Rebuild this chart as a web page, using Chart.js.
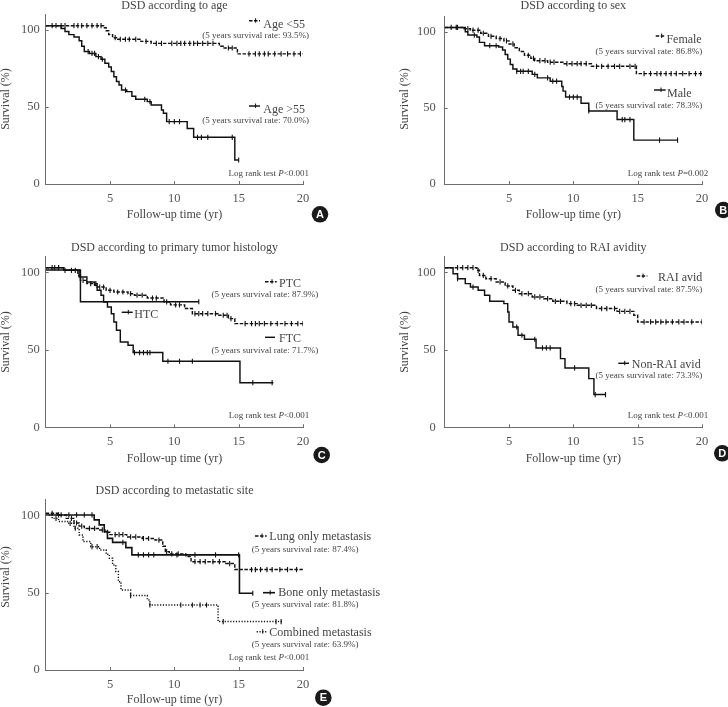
<!DOCTYPE html>
<html>
<head>
<meta charset="utf-8">
<script src="https://cdn.jsdelivr.net/npm/chart.js@4.4.1/dist/chart.umd.min.js"></script>
<style>
  body { margin: 0; background: #fff; width: 728px; height: 707px; position: relative; overflow: hidden; }
  canvas { position: absolute; }
</style>
</head>
<body>
<canvas id="chart-a" width="364" height="235" style="left:0;top:0"></canvas>
<canvas id="chart-b" width="364" height="235" style="left:364px;top:0"></canvas>
<canvas id="chart-c" width="364" height="235" style="left:0;top:235px"></canvas>
<canvas id="chart-d" width="364" height="235" style="left:364px;top:235px"></canvas>
<canvas id="chart-e" width="450" height="237" style="left:0;top:470px"></canvas>
<script>
// ticks shared by all panels
const xTicks = [5, 10, 15, 20];
const yTicks = [0, 50, 100];

// KM curves: [time (yr), survival (%)] at each drop
const ageUnder55 = [[0,102.8],[4.5,101.5],[4.7,99.5],[4.9,97],[5.2,95],[5.6,94],[7.4,92.6],[8.2,91.3],[13.5,89.5],[13.8,88.3],[14.9,84.5],[20,84.5]];
const ageOver55 = [[0,102.8],[1.2,101],[1.5,99],[1.8,97],[2.2,95.5],[2.6,93],[2.8,89.5],[3.0,86],[3.4,84.8],[3.9,82.7],[4.3,81],[4.6,78.4],[4.9,76],[5.1,73],[5.3,69.7],[5.5,66.5],[5.7,64.3],[5.9,61],[6.3,60],[6.7,57],[7.0,55],[7.9,53.5],[8.2,51.3],[9.0,48],[9.15,45.9],[9.4,40.5],[11.0,36.1],[11.5,30.3],[14.7,15.6],[15.0,15.6]];
const female = [[0,102.8],[1.5,102],[2.0,101],[2.8,99],[3.4,97],[4.0,95.5],[4.6,94],[5.0,92],[5.4,89.5],[5.8,87],[6.2,84.5],[6.7,82.5],[7.0,81],[8.0,80],[9.2,79],[11.4,77.3],[14.9,72.5],[20,72.5]];
const male = [[0,102.8],[1.6,100],[1.8,97.8],[2.5,96.5],[2.7,93],[3.1,90.8],[4.2,90],[4.5,88],[4.7,85],[4.9,82],[5.1,78.5],[5.3,75.5],[5.6,74],[6.8,72],[7.2,69.7],[8.2,67.5],[9.1,64],[9.2,61],[9.4,57.1],[10.6,53],[11.2,48],[13.4,42.3],[14.7,28.8],[18.1,28.8]];
const ptc = [[0,103],[1.4,101.3],[2.5,98],[2.7,94.8],[3.2,92.7],[4.0,90.5],[4.7,88.4],[5.3,87.3],[6.4,86.2],[6.9,85.2],[7.9,83.4],[9.2,80.9],[9.7,79],[10.8,76.6],[11.4,73.3],[13.4,72.3],[14.2,70.1],[14.7,66.9],[20,66.9]];
const ftc = [[0,103],[1.4,101.3],[2.6,97],[3.2,93.8],[3.8,91.6],[4.0,88.4],[4.3,85.2],[4.5,80.9],[4.8,77.6],[5.1,73.3],[5.3,68],[5.5,62.6],[5.8,55],[6.4,52.9],[6.8,48.2],[9.1,42.6],[15.1,28.8],[17.7,28.8]];
const htc = [[0,101.5],[2.7,81],[11.9,81]];
const raiAvid = [[0,103],[2.5,101.3],[2.7,98],[3.2,95.9],[4.0,93.8],[4.7,91.2],[5.3,88.4],[5.8,86.2],[6.8,84.1],[7.7,83],[8.4,81.3],[9.5,79.8],[10.3,78.7],[11.8,76.6],[13.4,74.8],[14.7,72.3],[15.0,68],[20,68]];
const nonRai = [[0,103],[0.65,99.1],[1.0,95.9],[1.6,92.7],[2.0,90.5],[2.6,88.4],[3.1,85.2],[3.5,81.3],[4.6,79.8],[4.9,74.4],[5.0,68],[5.3,64.7],[5.7,59.4],[6.2,56.8],[7.1,51.2],[9.0,44.3],[9.35,38.3],[11.2,31.4],[11.6,21.1],[12.5,21.1]];
const lungOnly = [[0,101.3],[0.9,100.2],[1.6,98],[2.2,95],[2.6,93],[3.0,91.5],[4.2,90.5],[4.6,89],[5.0,87.5],[6.3,86],[7.5,85],[8.5,84],[9.1,80],[9.3,76.5],[9.6,75],[10.9,73.3],[11.3,70],[14.0,68.8],[14.7,64.9],[20,64.9]];
const boneOnly = [[0,100.2],[3.77,97],[4.16,93.8],[4.55,89.4],[4.8,85.1],[5.2,82.5],[6.23,79.1],[6.7,74.4],[15.06,49.6],[16.1,49.6]];
const combined = [[0,100.2],[0.5,98],[1.0,96],[1.7,94.8],[2.2,91.6],[2.6,87.3],[2.9,83],[3.5,79.7],[4.2,77.6],[4.7,74.8],[4.95,72.2],[5.2,67.9],[5.45,63.6],[5.65,57.1],[5.85,51.7],[6.6,48.1],[7.9,45.3],[8.1,42],[13.4,31.3],[18.4,31.3]];

// censored times (yr)
const censAgeUnder55 = [0.5,0.8,1.2,1.5,2.2,2.5,2.8,3.2,3.6,4.0,4.3,5.4,5.8,6.2,6.5,7.0,7.8,8.6,9.0,9.8,10.2,10.5,10.8,11.2,11.5,11.8,12.2,12.6,13.0,14.2,14.5,15.8,16.3,16.6,17.0,17.3,17.8,18.3,18.8,19.3,19.8];
const censAgeOver55 = [3.3,3.6,3.8,4.1,4.4,6.2,7.7,8.1,9.6,10.0,10.4,11.8,12.1,12.6,14.5,15.0];
const censFemale = [0.5,0.9,1.8,2.2,2.6,3.0,3.6,4.3,4.8,5.3,6.5,6.9,7.4,7.8,8.2,8.5,9.5,9.9,10.3,10.6,11.0,11.8,12.2,12.7,13.2,13.6,14.4,14.8,15.5,16.0,16.5,16.8,17.2,17.6,18.0,18.5,19.0,19.5,19.9];
const censMale = [1.0,2.3,3.5,4.0,5.6,5.9,6.1,6.5,7.0,8.0,8.4,8.7,9.7,10.0,10.3,11.2,13.8,14.0,14.4,16.7,18.1];
const censPtc = [0.7,1.0,2.0,2.3,2.9,3.5,3.9,4.2,4.5,5.0,5.6,6.0,6.6,7.1,7.5,8.3,8.6,9.4,10.1,10.4,11.6,11.9,12.2,12.6,13.2,13.8,14.1,14.4,15.5,16.0,16.3,16.6,17.0,17.5,18.0,18.6,19.1,19.6,20];
const censFtc = [0.5,1.0,1.5,6.9,7.3,7.6,7.9,8.1,9.5,10.4,11.4,16.1,17.6];
const censHtc = [11.9];
const censRaiAvid = [1.0,1.4,1.8,2.2,2.6,3.0,3.6,4.3,4.9,5.5,6.0,6.5,7.0,7.4,8.0,8.6,9.0,9.8,10.1,10.6,11.0,11.4,12.2,12.6,13.2,13.6,14.0,14.4,15.5,16.0,16.4,16.8,17.2,17.7,18.2,18.6,19.2,20];
const censNonRai = [1.0,2.2,5.6,6.0,7.0,7.6,7.9,8.2,10.1,11.7,12.5];
const censLung = [0.5,1.2,2.0,2.4,2.8,3.4,3.8,4.4,4.8,5.4,5.7,6.0,6.6,7.0,7.6,8.0,8.8,9.4,9.8,10.3,11.6,12.0,12.4,13.0,13.5,14.3,16.0,16.3,16.7,17.2,17.6,18.2,18.8,19.5];
const censBone = [1.0,1.8,2.4,3.0,3.6,6.0,7.2,7.6,8.0,8.4,10.2,11.6,13.2,15.0,16.1];
const censCombined = [0.8,1.9,2.3,3.6,4.0,6.6,8.1,10.5,11.4,12.0,12.5,13.8,17.9,18.3];

const serif = "'Liberation Serif', 'Times New Roman', serif";
const ink = '#111';
const axisColor = '#6e6e6e';
const textColor = '#444';
const DASH = [3.5, 1.5];
const DOT = [1.2, 1.6];

const levelAt = (curve, t) => {
  let s = curve[0][1];
  for (const [x, y] of curve) { if (x <= t) s = y; else break; }
  return s;
};

const kmLine = (curve, dash = [], width = 1.45) => ({
  type: 'line',
  data: curve.map(([x, y]) => ({ x, y })),
  stepped: 'before',
  borderColor: ink, borderWidth: width, borderDash: dash,
  pointRadius: 0, fill: false
});

const kmCens = (curve, times) => ({
  type: 'scatter',
  data: times.map(t => ({ x: t, y: levelAt(curve, t) })),
  pointStyle: 'line', pointRotation: 90, pointRadius: 2.6,
  pointBorderColor: ink, pointBorderWidth: 1.1, showLine: false
});

// draws inward tick marks, annotation texts, legend samples and panel badge
const panelDeco = {
  id: 'panelDeco',
  afterDraw(chart, args, o) {
    const ctx = chart.ctx;
    const { x, y } = chart.scales;
    const area = chart.chartArea;
    ctx.save();
    ctx.strokeStyle = axisColor; ctx.lineWidth = 1;
    xTicks.forEach(v => {
      const px = Math.round(x.getPixelForValue(v)) + 0.5;
      ctx.beginPath(); ctx.moveTo(px, area.bottom); ctx.lineTo(px, area.bottom - 3); ctx.stroke();
    });
    yTicks.forEach(v => {
      const py = Math.round(y.getPixelForValue(v)) + 0.5;
      ctx.beginPath(); ctx.moveTo(area.left, py); ctx.lineTo(area.left + 3, py); ctx.stroke();
    });

    (o.marks || []).forEach(m => {
      ctx.strokeStyle = ink; ctx.lineWidth = m.w || 1.45;
      ctx.setLineDash(m.dash || []);
      ctx.beginPath(); ctx.moveTo(m.x1, m.y); ctx.lineTo(m.x2, m.y); ctx.stroke();
      ctx.setLineDash([]);
      if (m.tick) {
        ctx.lineWidth = 1;
        const tx = m.x1 + (m.x2 - m.x1) * 0.6;
        ctx.beginPath(); ctx.moveTo(tx, m.y - 2.5); ctx.lineTo(tx, m.y + 2); ctx.stroke();
      }
    });

    ctx.fillStyle = textColor;
    ctx.textBaseline = 'alphabetic';
    (o.texts || []).forEach(t => {
      const segs = typeof t.s === 'string' ? [[t.s, false]] : t.s;
      const fontOf = it => `${it ? 'italic ' : ''}${t.size || 12}px ${serif}`;
      const widths = segs.map(([s, it]) => { ctx.font = fontOf(it); return ctx.measureText(s).width; });
      const total = widths.reduce((a, b) => a + b, 0);
      ctx.save();
      ctx.translate(t.x, t.y);
      if (t.rot) ctx.rotate(t.rot * Math.PI / 180);
      let cx = t.align === 'right' ? -total : t.align === 'center' ? -total / 2 : 0;
      ctx.textAlign = 'left';
      segs.forEach(([s, it], i) => { ctx.font = fontOf(it); ctx.fillText(s, cx, 0); cx += widths[i]; });
      ctx.restore();
    });

    if (o.badge) {
      const b = o.badge;
      ctx.fillStyle = '#1a1a1a';
      ctx.beginPath(); ctx.arc(b.x, b.y, 8.3, 0, Math.PI * 2); ctx.fill();
      ctx.fillStyle = '#fff';
      ctx.font = `bold 11px 'Liberation Sans', Arial, sans-serif`;
      ctx.textAlign = 'center'; ctx.textBaseline = 'middle';
      ctx.fillText(b.letter, b.x, b.y + 0.5);
    }
    ctx.restore();
  }
};

function makePanel(id, datasets, lay, deco) {
  const tickFont = { family: serif, size: 12.5 };
  return new Chart(document.getElementById(id), {
    data: { datasets },
    options: {
      responsive: false, animation: false, devicePixelRatio: 1,
      layout: { padding: { top: lay.top, right: lay.right, bottom: 0, left: 0 } },
      plugins: { legend: { display: false }, tooltip: { enabled: false }, panelDeco: deco },
      scales: {
        x: {
          type: 'linear', min: 0, max: 20,
          afterBuildTicks: s => { s.ticks = xTicks.map(v => ({ value: v })); },
          afterFit: s => { s.height = lay.xh; },
          grid: { display: false, drawTicks: false },
          border: { display: true, color: axisColor, width: 1 },
          ticks: { padding: lay.xp, color: '#555', font: tickFont, maxRotation: 0, autoSkip: false }
        },
        y: {
          min: 0, max: 110,
          afterBuildTicks: s => { s.ticks = yTicks.map(v => ({ value: v })); },
          afterFit: s => { s.width = lay.yw; },
          grid: { display: false, drawTicks: false },
          border: { display: true, color: axisColor, width: 1 },
          ticks: { padding: lay.yp, color: '#555', font: tickFont }
        }
      }
    },
    plugins: [panelDeco]
  });
}

const logRank = p => [['Log rank test ', false], ['P', true], [p, false]];

// A: age
makePanel('chart-a', [
  kmLine(ageUnder55, DASH), kmCens(ageUnder55, censAgeUnder55),
  kmLine(ageOver55), kmCens(ageOver55, censAgeOver55)
], { top: 14.6, right: 61, xh: 51, yw: 45.7, xp: 7, yp: 6 }, {
  texts: [
    { s: 'DSD according to age', x: 174.5, y: 8.5, align: 'center' },
    { s: 'Follow-up time (yr)', x: 174.5, y: 217.5, align: 'center' },
    { s: 'Survival (%)', x: 9, y: 99, align: 'center', rot: -90 },
    { s: 'Age <55', x: 305, y: 28.3, align: 'right' },
    { s: '(5 years survival rate: 93.5%)', x: 309, y: 37.7, align: 'right', size: 9 },
    { s: 'Age >55', x: 305, y: 113.3, align: 'right' },
    { s: '(5 years survival rate: 70.0%)', x: 309, y: 123.3, align: 'right', size: 9 },
    { s: logRank('<0.001'), x: 309, y: 175.7, align: 'right', size: 9 }
  ],
  marks: [
    { x1: 249, x2: 260, y: 20.7, dash: DASH, tick: true },
    { x1: 249, x2: 260, y: 106, tick: true }
  ],
  badge: { x: 320, y: 214.3, letter: 'A' }
});

// B: sex
makePanel('chart-b', [
  kmLine(female, DASH), kmCens(female, censFemale),
  kmLine(male), kmCens(male, censMale)
], { top: 14.6, right: 26, xh: 51, yw: 80.7, xp: 7, yp: 9 }, {
  texts: [
    { s: 'DSD according to sex', x: 209.3, y: 8.5, align: 'center' },
    { s: 'Follow-up time (yr)', x: 209.3, y: 217.5, align: 'center' },
    { s: 'Survival (%)', x: 44, y: 99, align: 'center', rot: -90 },
    { s: 'Female', x: 337.7, y: 43.3, align: 'right' },
    { s: '(5 years survival rate: 86.8%)', x: 338.3, y: 54, align: 'right', size: 9 },
    { s: 'Male', x: 327.7, y: 96.7, align: 'right' },
    { s: '(5 years survival rate: 78.3%)', x: 338.3, y: 108.3, align: 'right', size: 9 },
    { s: logRank('=0.002'), x: 344.3, y: 175.7, align: 'right', size: 9 }
  ],
  marks: [
    { x1: 291.7, x2: 301.7, y: 36, dash: DASH, tick: true },
    { x1: 290, x2: 301.7, y: 90, tick: true }
  ],
  badge: { x: 359.3, y: 210, letter: 'B' }
});

// C: histology
makePanel('chart-c', [
  kmLine(ptc, DASH), kmCens(ptc, censPtc),
  kmLine(ftc), kmCens(ftc, censFtc),
  kmLine(htc), kmCens(htc, censHtc)
], { top: 21.8, right: 61, xh: 42.7, yw: 45.7, xp: 7, yp: 6 }, {
  texts: [
    { s: 'DSD according to primary tumor histology', x: 174.5, y: 16, align: 'center' },
    { s: 'Follow-up time (yr)', x: 174.5, y: 226.5, align: 'center' },
    { s: 'Survival (%)', x: 9, y: 107, align: 'center', rot: -90 },
    { s: 'PTC', x: 301, y: 51.7, align: 'right' },
    { s: '(5 years survival rate: 87.9%)', x: 318.3, y: 62.3, align: 'right', size: 9 },
    { s: 'HTC', x: 134.3, y: 82.7, align: 'left' },
    { s: 'FTC', x: 301, y: 107.3, align: 'right' },
    { s: '(5 years survival rate: 71.7%)', x: 318.3, y: 118.3, align: 'right', size: 9 },
    { s: logRank('<0.001'), x: 309.3, y: 183.3, align: 'right', size: 9 }
  ],
  marks: [
    { x1: 265, x2: 276.7, y: 46.7, dash: DASH, tick: true },
    { x1: 121.7, x2: 132.7, y: 77.3, tick: true },
    { x1: 265, x2: 275, y: 102.3 }
  ],
  badge: { x: 321.7, y: 220, letter: 'C' }
});

// D: RAI avidity
makePanel('chart-d', [
  kmLine(raiAvid, DASH), kmCens(raiAvid, censRaiAvid),
  kmLine(nonRai), kmCens(nonRai, censNonRai)
], { top: 21.8, right: 26, xh: 42.7, yw: 80.7, xp: 7, yp: 9 }, {
  texts: [
    { s: 'DSD according to RAI avidity', x: 209.3, y: 16, align: 'center' },
    { s: 'Follow-up time (yr)', x: 209.3, y: 226.5, align: 'center' },
    { s: 'Survival (%)', x: 44, y: 107, align: 'center', rot: -90 },
    { s: 'RAI avid', x: 338.3, y: 46, align: 'right' },
    { s: '(5 years survival rate: 87.5%)', x: 338.3, y: 56.7, align: 'right', size: 9 },
    { s: 'Non-RAI avid', x: 336.7, y: 132.7, align: 'right' },
    { s: '(5 years survival rate: 73.3%)', x: 338.3, y: 142.7, align: 'right', size: 9 },
    { s: logRank('<0.001'), x: 344.3, y: 183.3, align: 'right', size: 9 }
  ],
  marks: [
    { x1: 272.7, x2: 283.3, y: 41, dash: DASH, tick: true },
    { x1: 254.3, x2: 265, y: 128.3, tick: true }
  ],
  badge: { x: 358.3, y: 218.3, letter: 'D' }
});

// E: metastatic site
makePanel('chart-e', [
  kmLine(lungOnly, DASH), kmCens(lungOnly, censLung),
  kmLine(boneOnly, [], 1.6), kmCens(boneOnly, censBone),
  kmLine(combined, DOT), kmCens(combined, censCombined)
], { top: 29.8, right: 147, xh: 37, yw: 45.7, xp: 7, yp: 6 }, {
  texts: [
    { s: 'DSD according to metastatic site', x: 174.5, y: 24, align: 'center' },
    { s: 'Follow-up time (yr)', x: 174.5, y: 233, align: 'center' },
    { s: 'Survival (%)', x: 9, y: 107, align: 'center', rot: -90 },
    { s: 'Lung only metastasis', x: 269.3, y: 70, align: 'left' },
    { s: '(5 years survival rate: 87.4%)', x: 251.7, y: 81.7, align: 'left', size: 9 },
    { s: 'Bone only metastasis', x: 278.3, y: 126, align: 'left' },
    { s: '(5 years survival rate: 81.8%)', x: 251.7, y: 136.7, align: 'left', size: 9 },
    { s: 'Combined metastasis', x: 269.3, y: 166, align: 'left' },
    { s: '(5 years survival rate: 63.9%)', x: 251.7, y: 176.7, align: 'left', size: 9 },
    { s: logRank('<0.001'), x: 309.3, y: 190, align: 'right', size: 9 }
  ],
  marks: [
    { x1: 255, x2: 266.7, y: 66, dash: DASH, tick: true },
    { x1: 263, x2: 275, y: 122.7, w: 1.6, tick: true },
    { x1: 256.7, x2: 266.7, y: 161.7, dash: DOT, tick: true }
  ],
  badge: { x: 323.3, y: 227.7, letter: 'E' }
});
</script>
</body>
</html>
